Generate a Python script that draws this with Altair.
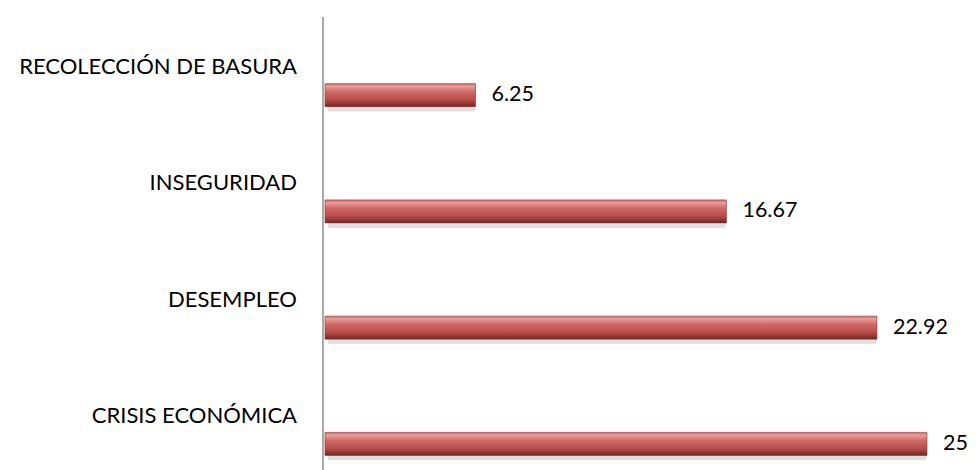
import altair as alt
import pandas as pd

categories = ["RECOLECCIÓN DE BASURA", "INSEGURIDAD", "DESEMPLEO", "CRISIS ECONÓMICA"]
values = [6.25, 16.67, 22.92, 25]
labels = ["6.25", "16.67", "22.92", "25"]

df = pd.DataFrame({"cat": categories, "val": values, "lab": labels})

FONT = "Lato"

x = alt.X("val:Q", scale=alt.Scale(domain=[0, 25], nice=False, zero=True), axis=None)
y = alt.Y("cat:N", sort=categories, scale=alt.Scale(paddingInner=0, paddingOuter=0), axis=None)

grad = alt.Gradient(
    gradient="linear",
    stops=[
        alt.GradientStop(color="#c46a67", offset=0),
        alt.GradientStop(color="#ea9e9b", offset=0.12),
        alt.GradientStop(color="#d06a67", offset=0.35),
        alt.GradientStop(color="#b94d4a", offset=0.7),
        alt.GradientStop(color="#8d3331", offset=0.9),
        alt.GradientStop(color="#6f2422", offset=1),
    ],
    x1=0, x2=0, y1=0, y2=1,
)

base = alt.Chart(df)

shadow = base.mark_bar(height=23, color="#000000", opacity=0.12, xOffset=3, yOffset=5, cornerRadius=3).encode(x=x, y=y)
bars = base.mark_bar(height=23, color=grad, stroke="#8a3330", strokeWidth=0.6).encode(x=x, y=y)

vals = base.mark_text(align="left", baseline="middle", dx=16, font=FONT, fontSize=21.5, color="#000000").encode(
    x=x, y=y, text="lab:N")

cats = base.mark_text(align="right", baseline="middle", dx=-28, dy=-28, font=FONT, fontSize=22, color="#000000").encode(
    x=alt.datum(0), y=y, text="cat:N")

axis_line = alt.Chart(pd.DataFrame({"a": [0]})).mark_rule(color="#8c8c8c", strokeWidth=1.5).encode(
    x=alt.value(-2), y=alt.value(-20), y2=alt.value(437))

chart = alt.layer(shadow, bars, vals, cats, axis_line).properties(
    width=602, height=465,
    padding={"left": 317, "top": 29, "right": 41, "bottom": 0},
    autosize=alt.AutoSizeParams(type="none"),
    background="white",
).configure_view(stroke=None, strokeWidth=0)

chart.save("out.html", embed_options={"renderer": "svg", "actions": False})
